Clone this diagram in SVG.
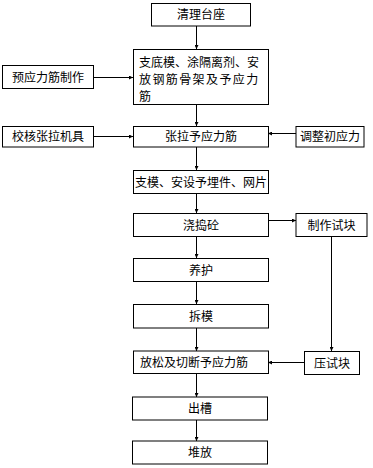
<svg xmlns="http://www.w3.org/2000/svg" width="373" height="468" viewBox="0 0 373 468">
<style>
.box{fill:#fff;stroke:#000;stroke-width:1}
.t{font-family:"Noto Sans CJK SC","Noto Sans CJK JP",sans-serif;font-size:12px;fill:#000}
.c{text-anchor:middle}
.ln{fill:none;stroke:#000;stroke-width:1}
</style>
<defs>
<marker id="ah" viewBox="0 0 4 4" refX="4" refY="2" markerWidth="4" markerHeight="4" markerUnits="userSpaceOnUse" orient="auto">
<path d="M0,0 L4,2 L0,4 Z" fill="#000"/>
</marker>
</defs>
<rect width="373" height="468" fill="#fff"/>
<g id="connectors">
<line class="ln" x1="196.5" y1="26" x2="196.5" y2="49" marker-end="url(#ah)"/>
<line class="ln" x1="93" y1="77.5" x2="133" y2="77.5" marker-end="url(#ah)"/>
<line class="ln" x1="196.5" y1="104" x2="196.5" y2="126" marker-end="url(#ah)"/>
<line class="ln" x1="93" y1="136.5" x2="133" y2="136.5" marker-end="url(#ah)"/>
<line class="ln" x1="296" y1="133.5" x2="268" y2="133.5" marker-end="url(#ah)"/>
<line class="ln" x1="196.5" y1="147" x2="196.5" y2="170" marker-end="url(#ah)"/>
<line class="ln" x1="196.5" y1="193" x2="196.5" y2="213" marker-end="url(#ah)"/>
<line class="ln" x1="268" y1="220.5" x2="296" y2="220.5" marker-end="url(#ah)"/>
<line class="ln" x1="196.5" y1="237" x2="196.5" y2="258" marker-end="url(#ah)"/>
<line class="ln" x1="196.5" y1="282" x2="196.5" y2="304" marker-end="url(#ah)"/>
<line class="ln" x1="331.5" y1="237" x2="331.5" y2="351" marker-end="url(#ah)"/>
<line class="ln" x1="196.5" y1="328" x2="196.5" y2="351" marker-end="url(#ah)"/>
<line class="ln" x1="304" y1="362.5" x2="268" y2="362.5" marker-end="url(#ah)"/>
<line class="ln" x1="196.5" y1="373" x2="196.5" y2="397" marker-end="url(#ah)"/>
<line class="ln" x1="196.5" y1="420" x2="196.5" y2="441" marker-end="url(#ah)"/>
</g>
<g id="n1"><rect class="box" x="151.5" y="3.5" width="99" height="22.5"/><text class="t c" x="201" y="19">清理台座</text></g>
<g id="n2"><rect class="box" x="133.5" y="49.5" width="135" height="55"/>
<text class="t" x="139" y="66.5">支底模、涂隔离剂、安</text>
<text class="t" x="139" y="83.5" letter-spacing="1.4">放钢筋骨架及予应力</text>
<text class="t" x="139" y="100.5">筋</text></g>
<g id="n3"><rect class="box" x="2.5" y="65.5" width="91" height="23"/><text class="t c" x="48" y="81.5">预应力筋制作</text></g>
<g id="n4"><rect class="box" x="133.5" y="126.5" width="135" height="20.5"/><text class="t c" x="201" y="141">张拉予应力筋</text></g>
<g id="n5"><rect class="box" x="2.5" y="126.5" width="91" height="20.5"/><text class="t c" x="48" y="141">校核张拉机具</text></g>
<g id="n6"><rect class="box" x="296" y="126.5" width="68" height="20.5"/><text class="t c" x="330" y="141">调整初应力</text></g>
<g id="n7"><rect class="box" x="133.5" y="170.5" width="135" height="23"/><text class="t c" x="201" y="186.5">支模、安设予埋件、网片</text></g>
<g id="n8"><rect class="box" x="133.5" y="213.5" width="135" height="23"/><text class="t c" x="201" y="229.5">浇捣砼</text></g>
<g id="n9"><rect class="box" x="296" y="213.5" width="71" height="23"/><text class="t c" x="331.5" y="229.5">制作试块</text></g>
<g id="n10"><rect class="box" x="133.5" y="258.5" width="135" height="23"/><text class="t c" x="201" y="274.5">养护</text></g>
<g id="n11"><rect class="box" x="133.5" y="304.5" width="135" height="23.5"/><text class="t c" x="201" y="320.5">拆模</text></g>
<g id="n12"><rect class="box" x="133.5" y="351" width="135" height="22.5"/><text class="t" x="140" y="366.5">放松及切断予应力筋</text></g>
<g id="n13"><rect class="box" x="304.5" y="351.5" width="55" height="23"/><text class="t c" x="332" y="367.5">压试块</text></g>
<g id="n14"><rect class="box" x="132.5" y="397" width="135" height="23"/><text class="t c" x="200" y="413">出槽</text></g>
<g id="n15"><rect class="box" x="132.5" y="441" width="135" height="23"/><text class="t c" x="200" y="457">堆放</text></g>
</svg>
